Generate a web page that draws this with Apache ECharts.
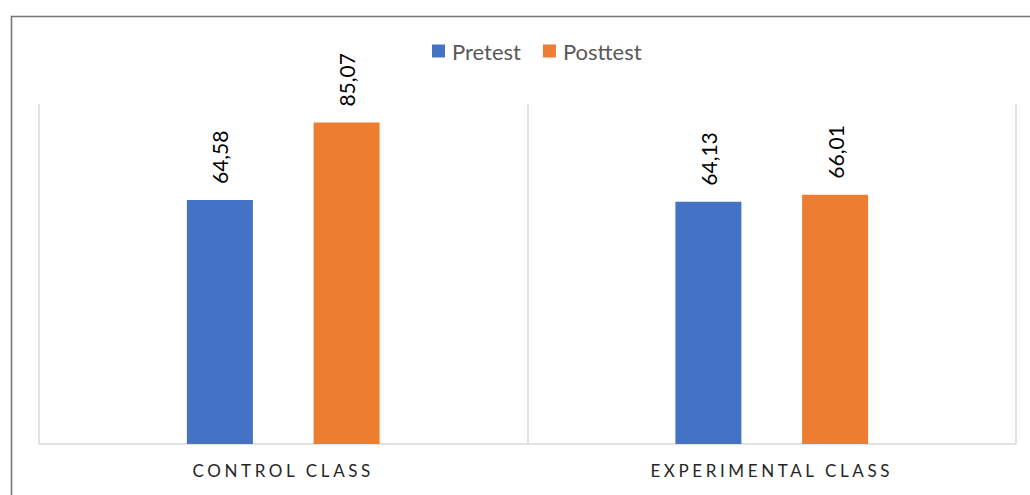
<!DOCTYPE html>
<html><head><meta charset="utf-8">
<style>html,body{margin:0;padding:0;background:#fff}#c{width:1030px;height:495px}</style>
<script src="https://cdn.jsdelivr.net/npm/echarts@6/dist/echarts.min.js"></script>
</head><body><div id="c"></div>
<script>
const categories = ['CONTROL CLASS', 'EXPERIMENTAL CLASS'];
const pretest = [64.58, 64.13];
const posttest = [85.07, 66.01];
const seriesNames = ['Pretest', 'Posttest'];

const chart = echarts.init(document.getElementById('c'), null, {renderer: 'svg'});
const font = 'Lato, "Noto Sans", sans-serif';
const fmt = p => p.value.toFixed(2).replace('.', ',');
const labelCfg = {
  show: true, position: 'top', rotate: 90, align: 'left', verticalAlign: 'middle',
  distance: 16, color: '#000', fontSize: 21, fontFamily: font, formatter: fmt
};
chart.setOption({
  animation: false,
  textStyle: {fontFamily: font},
  graphic: [{type: 'rect', left: 9, top: 14, shape: {width: 1040, height: 500},
    style: {fill: 'none', stroke: '#767676', lineWidth: 1.6}, silent: true, z: 100}],
  legend: {top: 35, left: 427, itemWidth: 13, itemHeight: 13, itemGap: 22,
    icon: 'rect', textStyle: {color: '#595959', fontSize: 22, fontFamily: font, padding: [0, 0, 0, 2]},
    data: seriesNames},
  grid: {left: 39, right: 14, top: 104, bottom: 51},
  xAxis: {type: 'category', data: categories,
    axisLine: {lineStyle: {color: '#d9d9d9', width: 1.5}},
    axisTick: {show: false},
    splitLine: {show: true, lineStyle: {color: '#d9d9d9', width: 1.5}},
    axisLabel: {color: '#262626', fontSize: 17, margin: 18, fontFamily: font}},
  yAxis: {type: 'value', min: 0, max: 90, show: false, splitLine: {show: false}},
  series: [
    {name: seriesNames[0], type: 'bar', data: pretest, barWidth: 66, barGap: '92%',
      itemStyle: {color: '#4472c4'}, label: labelCfg},
    {name: seriesNames[1], type: 'bar', data: posttest, barWidth: 66, barGap: '92%',
      itemStyle: {color: '#ed7d31'}, label: labelCfg}
  ]
});
function spaceLabels() {
  document.querySelectorAll('#c text').forEach(t => {
    if (categories.includes(t.textContent.trim())) t.setAttribute('letter-spacing', '3.6px');
  });
}
spaceLabels();
chart.on('finished', spaceLabels);
</script></body></html>
